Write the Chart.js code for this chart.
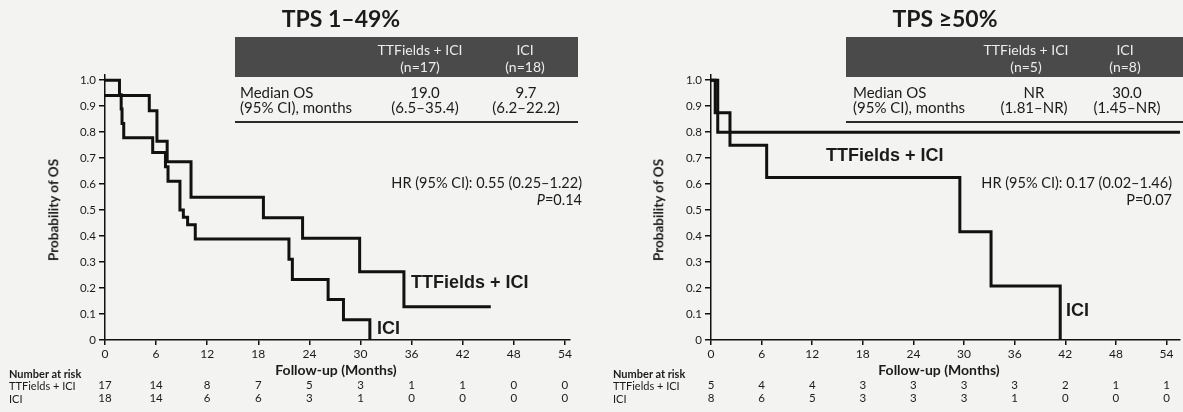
<!DOCTYPE html>
<html>
<head>
<meta charset="utf-8">
<script src="https://cdn.jsdelivr.net/npm/chart.js@4"></script>
<style>
  body { margin: 0; background: #f3f3f1; font-family: Lato, sans-serif; color: #1b1b1b; }
  #wrap { position: relative; width: 1183px; height: 412px; overflow: hidden; }
  canvas { position: absolute; top: 0; }
  .t { position: absolute; white-space: nowrap; line-height: 1; }
  .c { transform: translate(-50%, -50%); }
  .l { transform: translateY(-50%); }
  .r { transform: translate(-100%, -50%); }
  .title { font-weight: 700; font-size: 23px; }
  .hdr { position: absolute; background: #4a4a4a; }
  .hd { color: #ececec; font-size: 14px; }
  .cell { font-size: 15px; }
  .rule { position: absolute; height: 1.5px; background: #2a2a2a; }
  .hr { font-size: 14.5px; }
  .curve { font-family: "Liberation Sans", Arial, sans-serif; font-weight: 700; font-size: 18px; }
  .axt { font-weight: 700; font-size: 14px; }
  .yt { font-weight: 700; font-size: 13.5px; transform: translate(-50%, -50%) rotate(-90deg); }
  .risk { font-size: 11px; }
</style>
</head>
<body>
<div id="wrap">
  <canvas id="chartLow" width="590" height="412" style="left:0"></canvas>
  <canvas id="chartHigh" width="593" height="412" style="left:590px"></canvas>

  <!-- left panel text -->
  <div class="t c title" style="left:341px;top:18px">TPS 1–49%</div>
  <div class="hdr" style="left:235px;top:37px;width:343px;height:40px"></div>
  <div class="t c hd" style="left:420px;top:50px">TTFields + ICI</div>
  <div class="t c hd" style="left:420px;top:67px">(n=17)</div>
  <div class="t c hd" style="left:525px;top:50px">ICI</div>
  <div class="t c hd" style="left:525px;top:67px">(n=18)</div>
  <div class="t l cell" style="left:240px;top:92px">Median OS</div>
  <div class="t l cell" style="left:240px;top:107px">(95% CI), months</div>
  <div class="t c cell" style="left:425px;top:92px">19.0</div>
  <div class="t c cell" style="left:425px;top:107px">(6.5–35.4)</div>
  <div class="t c cell" style="left:526px;top:92px">9.7</div>
  <div class="t c cell" style="left:526px;top:107px">(6.2–22.2)</div>
  <div class="rule" style="left:235px;top:121px;width:343px"></div>
  <div class="t r hr" style="left:582px;top:183px">HR (95% CI): 0.55 (0.25–1.22)</div>
  <div class="t r hr" style="left:582px;top:200px"><i>P</i>=0.14</div>
  <div class="t l curve" style="left:411px;top:282px">TTFields + ICI</div>
  <div class="t l curve" style="left:377px;top:328px">ICI</div>
  <div class="t c axt" style="left:336px;top:370px">Follow-up (Months)</div>
  <div class="t yt" style="left:54px;top:210px">Probability of OS</div>
  <div class="t l risk" style="left:9px;top:373px;font-weight:700">Number at risk</div>
  <div class="t l risk" style="left:9px;top:385px">TTFields + ICI</div>
  <div class="t l risk" style="left:9px;top:398px">ICI</div>

  <!-- right panel text -->
  <div class="t c title" style="left:945px;top:18px">TPS ≥50%</div>
  <div class="hdr" style="left:846px;top:37px;width:337px;height:40px"></div>
  <div class="t c hd" style="left:1026px;top:50px">TTFields + ICI</div>
  <div class="t c hd" style="left:1026px;top:67px">(n=5)</div>
  <div class="t c hd" style="left:1125px;top:50px">ICI</div>
  <div class="t c hd" style="left:1125px;top:67px">(n=8)</div>
  <div class="t l cell" style="left:853px;top:92px">Median OS</div>
  <div class="t l cell" style="left:853px;top:107px">(95% CI), months</div>
  <div class="t c cell" style="left:1034px;top:92px">NR</div>
  <div class="t c cell" style="left:1034px;top:107px">(1.81–NR)</div>
  <div class="t c cell" style="left:1127px;top:92px">30.0</div>
  <div class="t c cell" style="left:1127px;top:107px">(1.45–NR)</div>
  <div class="rule" style="left:846px;top:121px;width:337px"></div>
  <div class="t r hr" style="left:1172px;top:183px">HR (95% CI): 0.17 (0.02–1.46)</div>
  <div class="t r hr" style="left:1172px;top:200px">P=0.07</div>
  <div class="t l curve" style="left:826px;top:155px">TTFields + ICI</div>
  <div class="t l curve" style="left:1066px;top:310px">ICI</div>
  <div class="t c axt" style="left:939px;top:370px">Follow-up (Months)</div>
  <div class="t yt" style="left:659px;top:210px">Probability of OS</div>
  <div class="t l risk" style="left:613px;top:373px;font-weight:700">Number at risk</div>
  <div class="t l risk" style="left:613px;top:385px">TTFields + ICI</div>
  <div class="t l risk" style="left:613px;top:398px">ICI</div>
</div>

<script>
// x axis ticks (months) and number-at-risk columns
const monthTicks = [0, 6, 12, 18, 24, 30, 36, 42, 48, 54];

// TPS 1-49%: Kaplan-Meier steps (time in months, survival after the drop)
const lowTtfTimes = [0, 5.2, 6.1, 7.3, 10.1, 18.6, 23.2, 29.9, 35.1];
const lowTtfSurv  = [0.941, 0.882, 0.765, 0.686, 0.549, 0.471, 0.392, 0.263, 0.128];
const lowTtfEnd = 45.3;
const lowIciTimes = [0, 1.7, 1.9, 2.0, 2.2, 5.6, 7.1, 7.4, 8.8, 9.2, 9.7, 10.6, 21.6, 22.0, 26.2, 28.0, 31.1];
const lowIciSurv  = [1.0, 0.944, 0.889, 0.833, 0.778, 0.722, 0.667, 0.611, 0.5, 0.472, 0.444, 0.389, 0.311, 0.233, 0.156, 0.078, 0];
const lowIciEnd = 31.1;

// TPS >=50%
const highTtfTimes = [0, 0.8];
const highTtfSurv  = [1.0, 0.8];
const highTtfEnd = 55.6;
const highIciTimes = [0, 0.5, 2.25, 6.6, 29.5, 33.2, 41.4];
const highIciSurv  = [1.0, 0.875, 0.75, 0.625, 0.417, 0.208, 0];
const highIciEnd = 41.4;

// number at risk
const lowRiskTtf  = [17, 14, 8, 7, 5, 3, 1, 1, 0, 0];
const lowRiskIci  = [18, 14, 6, 6, 3, 1, 0, 0, 0, 0];
const highRiskTtf = [5, 4, 4, 3, 3, 3, 3, 2, 1, 1];
const highRiskIci = [8, 6, 5, 3, 3, 3, 1, 0, 0, 0];

function kmPoints(times, surv, end) {
    const pts = times.map((t, i) => ({ x: t, y: surv[i] }));
    pts.push({ x: end, y: surv[surv.length - 1] });
    return pts;
}

const riskTable = {
    id: 'riskTable',
    afterDraw(chart, args, opts) {
        const ctx = chart.ctx;
        const x = chart.scales.x;
        ctx.save();
        ctx.font = '11.5px Lato';
        ctx.fillStyle = '#1b1b1b';
        ctx.textAlign = 'center';
        ctx.textBaseline = 'middle';
        opts.rows.forEach(row => {
            row.values.forEach((v, i) => {
                ctx.fillText(String(v), x.getPixelForValue(monthTicks[i]), row.y);
            });
        });
        ctx.restore();
    }
};

function makeChart(id, series, axisLeft, xMax, padRight, riskRows) {
    const ctx = document.getElementById(id).getContext('2d');
    return new Chart(ctx, {
        type: 'line',
        data: {
            datasets: series.map(s => ({
                data: s,
                stepped: true,
                borderColor: '#111111',
                borderWidth: 3,
                pointRadius: 0,
                fill: false,
                tension: 0
            }))
        },
        options: {
            responsive: false,
            animation: false,
            layout: { padding: { left: 0, right: padRight, top: 75, bottom: 0 } },
            plugins: {
                legend: { display: false },
                tooltip: { enabled: false },
                riskTable: { rows: riskRows }
            },
            scales: {
                x: {
                    type: 'linear',
                    min: 0,
                    max: xMax,
                    afterFit: s => { s.height = 72; },
                    afterBuildTicks: s => { s.ticks = monthTicks.map(v => ({ value: v })); },
                    ticks: {
                        color: '#1b1b1b',
                        font: { family: 'Lato', size: 12 },
                        padding: 2,
                        maxRotation: 0
                    },
                    grid: {
                        drawOnChartArea: false,
                        color: '#111111',
                        tickLength: 5,
                        lineWidth: 1.5
                    },
                    border: { color: '#111111', width: 1.5 }
                },
                y: {
                    type: 'linear',
                    min: 0,
                    max: 1.02,
                    afterFit: s => { s.width = axisLeft; },
                    afterBuildTicks: s => {
                        s.ticks = [0, 0.1, 0.2, 0.3, 0.4, 0.5, 0.6, 0.7, 0.8, 0.9, 1.0].map(v => ({ value: v }));
                    },
                    ticks: {
                        color: '#1b1b1b',
                        font: { family: 'Lato', size: 11.5 },
                        padding: 3,
                        callback: v => v === 0 ? '0' : v.toFixed(1)
                    },
                    grid: {
                        drawOnChartArea: false,
                        color: '#111111',
                        tickLength: 6,
                        lineWidth: 1.5
                    },
                    border: { color: '#111111', width: 1.5 }
                }
            }
        },
        plugins: [riskTable]
    });
}

makeChart('chartLow',
    [kmPoints(lowTtfTimes, lowTtfSurv, lowTtfEnd), kmPoints(lowIciTimes, lowIciSurv, lowIciEnd)],
    105, 54.6, 20,
    [{ y: 385, values: lowRiskTtf }, { y: 398, values: lowRiskIci }]);

makeChart('chartHigh',
    [kmPoints(highTtfTimes, highTtfSurv, highTtfEnd), kmPoints(highIciTimes, highIciSurv, highIciEnd)],
    121, 55.6, 3,
    [{ y: 385, values: highRiskTtf }, { y: 398, values: highRiskIci }]);
</script>
</body>
</html>
